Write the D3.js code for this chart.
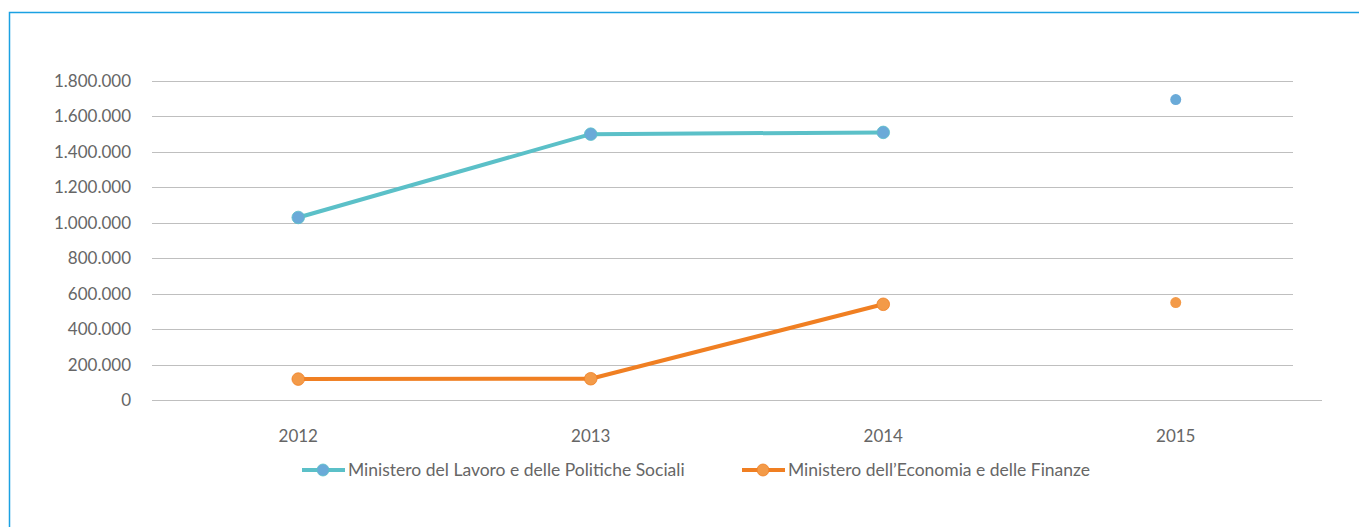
<!DOCTYPE html>
<html><head><meta charset="utf-8">
<script src="https://cdn.jsdelivr.net/npm/d3@7"></script>
<style>body{margin:0;background:#fff;} text{font-family:Lato,"Open Sans",sans-serif;}</style>
</head><body>
<svg id="c" width="1359" height="527"></svg>
<script>
const categories = ["2012","2013","2014","2015"];
const seriesNames = ["Ministero del Lavoro e delle Politiche Sociali","Ministero dell\u2019Economia e delle Finanze"];
const lavoro = [1030000, 1500000, 1510000, 1695000];
const economia = [118000, 120000, 540000, 550000];
const yTicks = [0,200000,400000,600000,800000,1000000,1200000,1400000,1600000,1800000];
const connected = [true, true, true, false]; // 2015 shown as isolated point

const svg = d3.select("#c");
svg.append("path").attr("d","M9.5,527 L9.5,12.5 L1359,12.5").attr("fill","none").attr("stroke","#1ba1e2").attr("stroke-width",1.5);

const x = d3.scaleBand().domain(categories).range([152,1322]);
const y = d3.scaleLinear().domain([0,1800000]).range([400,81]);
const fmt = v => d3.format(",")(v).replace(/,/g,".");

svg.append("g").selectAll("line").data(yTicks).join("line")
  .attr("x1",152).attr("x2",d=>d===0?1322:1293)
  .attr("y1",d=>Math.round(y(d))+0.5).attr("y2",d=>Math.round(y(d))+0.5)
  .attr("stroke","#bfbfbf").attr("stroke-width",1);

svg.append("g").selectAll("text").data(yTicks).join("text")
  .attr("x",131).attr("y",d=>y(d)).attr("dy","0.35em").attr("text-anchor","end")
  .attr("fill","#666").attr("font-size",17).text(fmt);

svg.append("g").selectAll("text").data(categories).join("text")
  .attr("x",d=>x(d)+x.bandwidth()/2).attr("y",436).attr("dy","0.35em").attr("text-anchor","middle")
  .attr("fill","#666").attr("font-size",17).text(d=>d);

const cx = d => x(d)+x.bandwidth()/2;
const series = [
  {vals:lavoro, line:"#5bc0c8", mark:"#6aaad8"},
  {vals:economia, line:"#f07f22", mark:"#f39a48"}
];
series.forEach(s=>{
  const data = categories.map((c,i)=>({c, v:s.vals[i], ok:connected[i]}));
  const line = d3.line().defined(d=>d.ok).x(d=>cx(d.c)).y(d=>y(d.v));
  svg.append("path").datum(data).attr("d",line).attr("fill","none")
    .attr("stroke",s.line).attr("stroke-width",4).attr("stroke-linejoin","round");
  svg.append("g").selectAll("circle").data(data).join("circle")
    .attr("cx",d=>cx(d.c)).attr("cy",d=>y(d.v)).attr("r",d=>d.ok?6.3:5.5)
    .attr("fill",s.mark).attr("stroke",d=>d.ok?s.line:"none").attr("stroke-width",0.8);
});

const legX = [302, 742];
seriesNames.forEach((n,i)=>{
  const g = svg.append("g").attr("transform",`translate(${legX[i]},470)`);
  g.append("line").attr("x1",0).attr("x2",43).attr("y1",0).attr("y2",0).attr("stroke",series[i].line).attr("stroke-width",4);
  g.append("circle").attr("cx",21).attr("cy",0).attr("r",6).attr("fill",series[i].mark).attr("stroke",series[i].line).attr("stroke-width",0.8);
  g.append("text").attr("x",46).attr("y",0).attr("dy","0.35em").attr("fill","#666").attr("font-size",17.5).text(n);
});
</script>
</body></html>
